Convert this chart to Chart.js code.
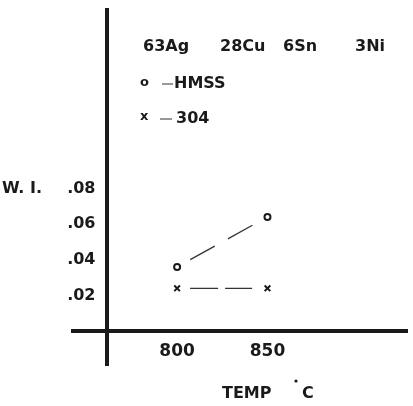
<!DOCTYPE html>
<html>
<head>
<meta charset="utf-8">
<script src="https://cdn.jsdelivr.net/npm/chart.js@4"></script>
<style>
  html, body { margin: 0; padding: 0; background: #fff; }
  #wrap { width: 413px; height: 406px; }
</style>
</head>
<body>
<div id="wrap"><canvas id="wi-chart"></canvas></div>
<script>
// data
const temps = [800, 850];
const hmss = [0.036, 0.064];
const ss304 = [0.024, 0.024];
const yTicks = [0.02, 0.04, 0.06, 0.08];
const xTicks = [800, 850];
const alloyText = ['63Ag', '28Cu', '6Sn', '3Ni'];

const INK = '#1a1a1a';
const FAMILY = '"DejaVu Sans", sans-serif';
const FONT = 'bold 16px ' + FAMILY;

// free text on the figure (labels, alloy, key)
const notes = {
    id: 'notes',
    afterDraw(chart) {
        const ctx = chart.ctx;
        const y = chart.scales.y;
        ctx.save();
        ctx.fillStyle = INK;
        ctx.font = FONT;
        ctx.textBaseline = 'middle';
        ctx.textAlign = 'left';

        ctx.fillText('W. I.', 2, y.getPixelForValue(0.08));

        const xs = [143, 220, 283, 355];
        alloyText.forEach((t, i) => ctx.fillText(t, xs[i], 47));

        ctx.fillText('HMSS', 174, 84);
        ctx.fillText('304', 176, 119);
        ctx.fillText('TEMP', 222, 394);
        ctx.fillText('C', 302, 394);

        ctx.font = 'bold 13px ' + FAMILY;
        ctx.fillText('o', 140, 83);
        ctx.fillText('x', 140, 117);

        // key dashes
        ctx.strokeStyle = '#777';
        ctx.lineWidth = 1.3;
        ctx.beginPath();
        ctx.moveTo(162, 84); ctx.lineTo(173, 84);
        ctx.moveTo(160, 119); ctx.lineTo(172, 119);
        ctx.stroke();

        ctx.beginPath();
        ctx.arc(296, 381, 1.6, 0, Math.PI * 2);
        ctx.fill();
        ctx.restore();
    }
};

const ctx = document.getElementById('wi-chart').getContext('2d');
new Chart(ctx, {
    type: 'line',
    data: {
        labels: temps,
        datasets: [{
            label: 'HMSS',
            data: temps.map((t, i) => ({ x: t, y: hmss[i] })),
            borderColor: '#333',
            borderWidth: 1.3,
            borderDash: [0, 15, 28, 15, 28, 100],
            pointStyle: 'circle',
            pointRadius: 3,
            pointBorderWidth: 2,
            pointBorderColor: INK,
            pointBackgroundColor: '#fff'
        }, {
            label: '304',
            data: temps.map((t, i) => ({ x: t, y: ss304[i] })),
            borderColor: '#333',
            borderWidth: 1.3,
            borderDash: [0, 13, 28, 7, 27, 100],
            pointStyle: 'crossRot',
            pointRadius: 4,
            pointBorderWidth: 2,
            pointBorderColor: INK
        }]
    },
    plugins: [notes],
    options: {
        responsive: true,
        maintainAspectRatio: false,
        animation: false,
        layout: { padding: { left: 73, right: 0, top: 10, bottom: 41 } },
        plugins: {
            legend: { display: false },
            tooltip: { enabled: false }
        },
        scales: {
            x: {
                type: 'linear',
                position: { y: 0 },
                min: 742.4,
                max: 927.2,
                afterBuildTicks: axis => { axis.ticks = xTicks.map(v => ({ value: v })); },
                grid: { display: false, drawTicks: false },
                border: { display: true, width: 4, color: INK },
                ticks: {
                    color: INK,
                    font: { family: FAMILY, size: 17, weight: 'bold' },
                    padding: 10,
                    maxRotation: 0,
                    autoSkip: false,
                    callback: v => String(v)
                }
            },
            y: {
                type: 'linear',
                position: { x: 761 },
                min: -0.019,
                max: 0.18,
                afterBuildTicks: axis => { axis.ticks = yTicks.map(v => ({ value: v })); },
                grid: { display: false, drawTicks: false },
                border: { display: true, width: 4, color: INK },
                ticks: {
                    color: INK,
                    font: { family: FAMILY, size: 16, weight: 'bold' },
                    padding: 0,
                    autoSkip: false,
                    // labels sit right-aligned on a value-positioned axis, spaces keep them off the line
                    callback: v => v.toFixed(2).replace(/^0/, '') + '  '
                }
            }
        }
    }
});
</script>
</body>
</html>
